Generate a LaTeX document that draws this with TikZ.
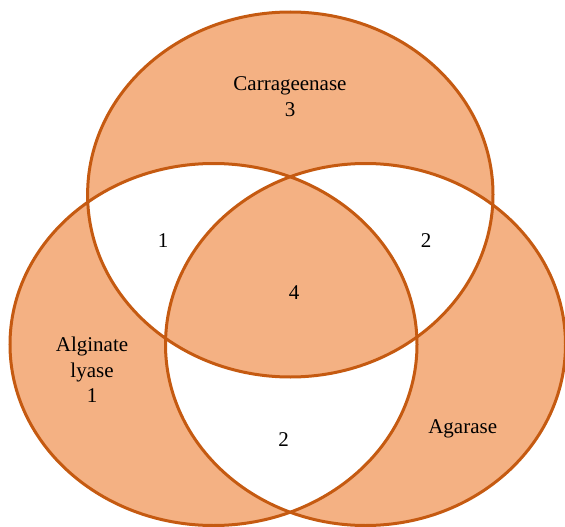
\documentclass[tikz,border=0pt]{standalone}
\usepackage{fontspec}
\setmainfont{Liberation Serif}
\definecolor{vennline}{HTML}{C55A11}
\definecolor{vennfill}{HTML}{F4B183}
\begin{document}
\begin{tikzpicture}[x=1pt,y=-1pt,
  lbl/.style={inner sep=0pt,anchor=base,font=\fontsize{21}{26}\selectfont,text=black},
  ring/.style={draw=vennline,line width=3pt}]
\useasboundingbox (0,0) rectangle (565,527);
\fill[vennfill,even odd rule]
  (290.3,194.5) ellipse [x radius=202.7, y radius=182.5]
  (213.5,344.5) ellipse [x radius=203.5, y radius=181]
  (365.5,344.5) ellipse [x radius=200, y radius=181];
\draw[ring] (290.3,194.5) ellipse [x radius=202.7, y radius=182.5];
\draw[ring] (213.5,344.5) ellipse [x radius=203.5, y radius=181];
\draw[ring] (365.5,344.5) ellipse [x radius=200, y radius=181];
\node[lbl] (carr) at (290,90.7) {Carrageenase};
\node[lbl] (carrn) at (290,116.7) {3};
\node[lbl] (ac) at (163,247.5) {1};
\node[lbl] (cg) at (426,247.5) {2};
\node[lbl] (all) at (294,299.5) {4};
\node[lbl] (alg1) at (92,351.7) {Alginate};
\node[lbl] (alg2) at (92,377) {lyase};
\node[lbl] (algn) at (92,402.3) {1};
\node[lbl] (ag) at (283.6,446) {2};
\node[lbl] (agar) at (462.7,433) {Agarase};
\end{tikzpicture}
\end{document}
